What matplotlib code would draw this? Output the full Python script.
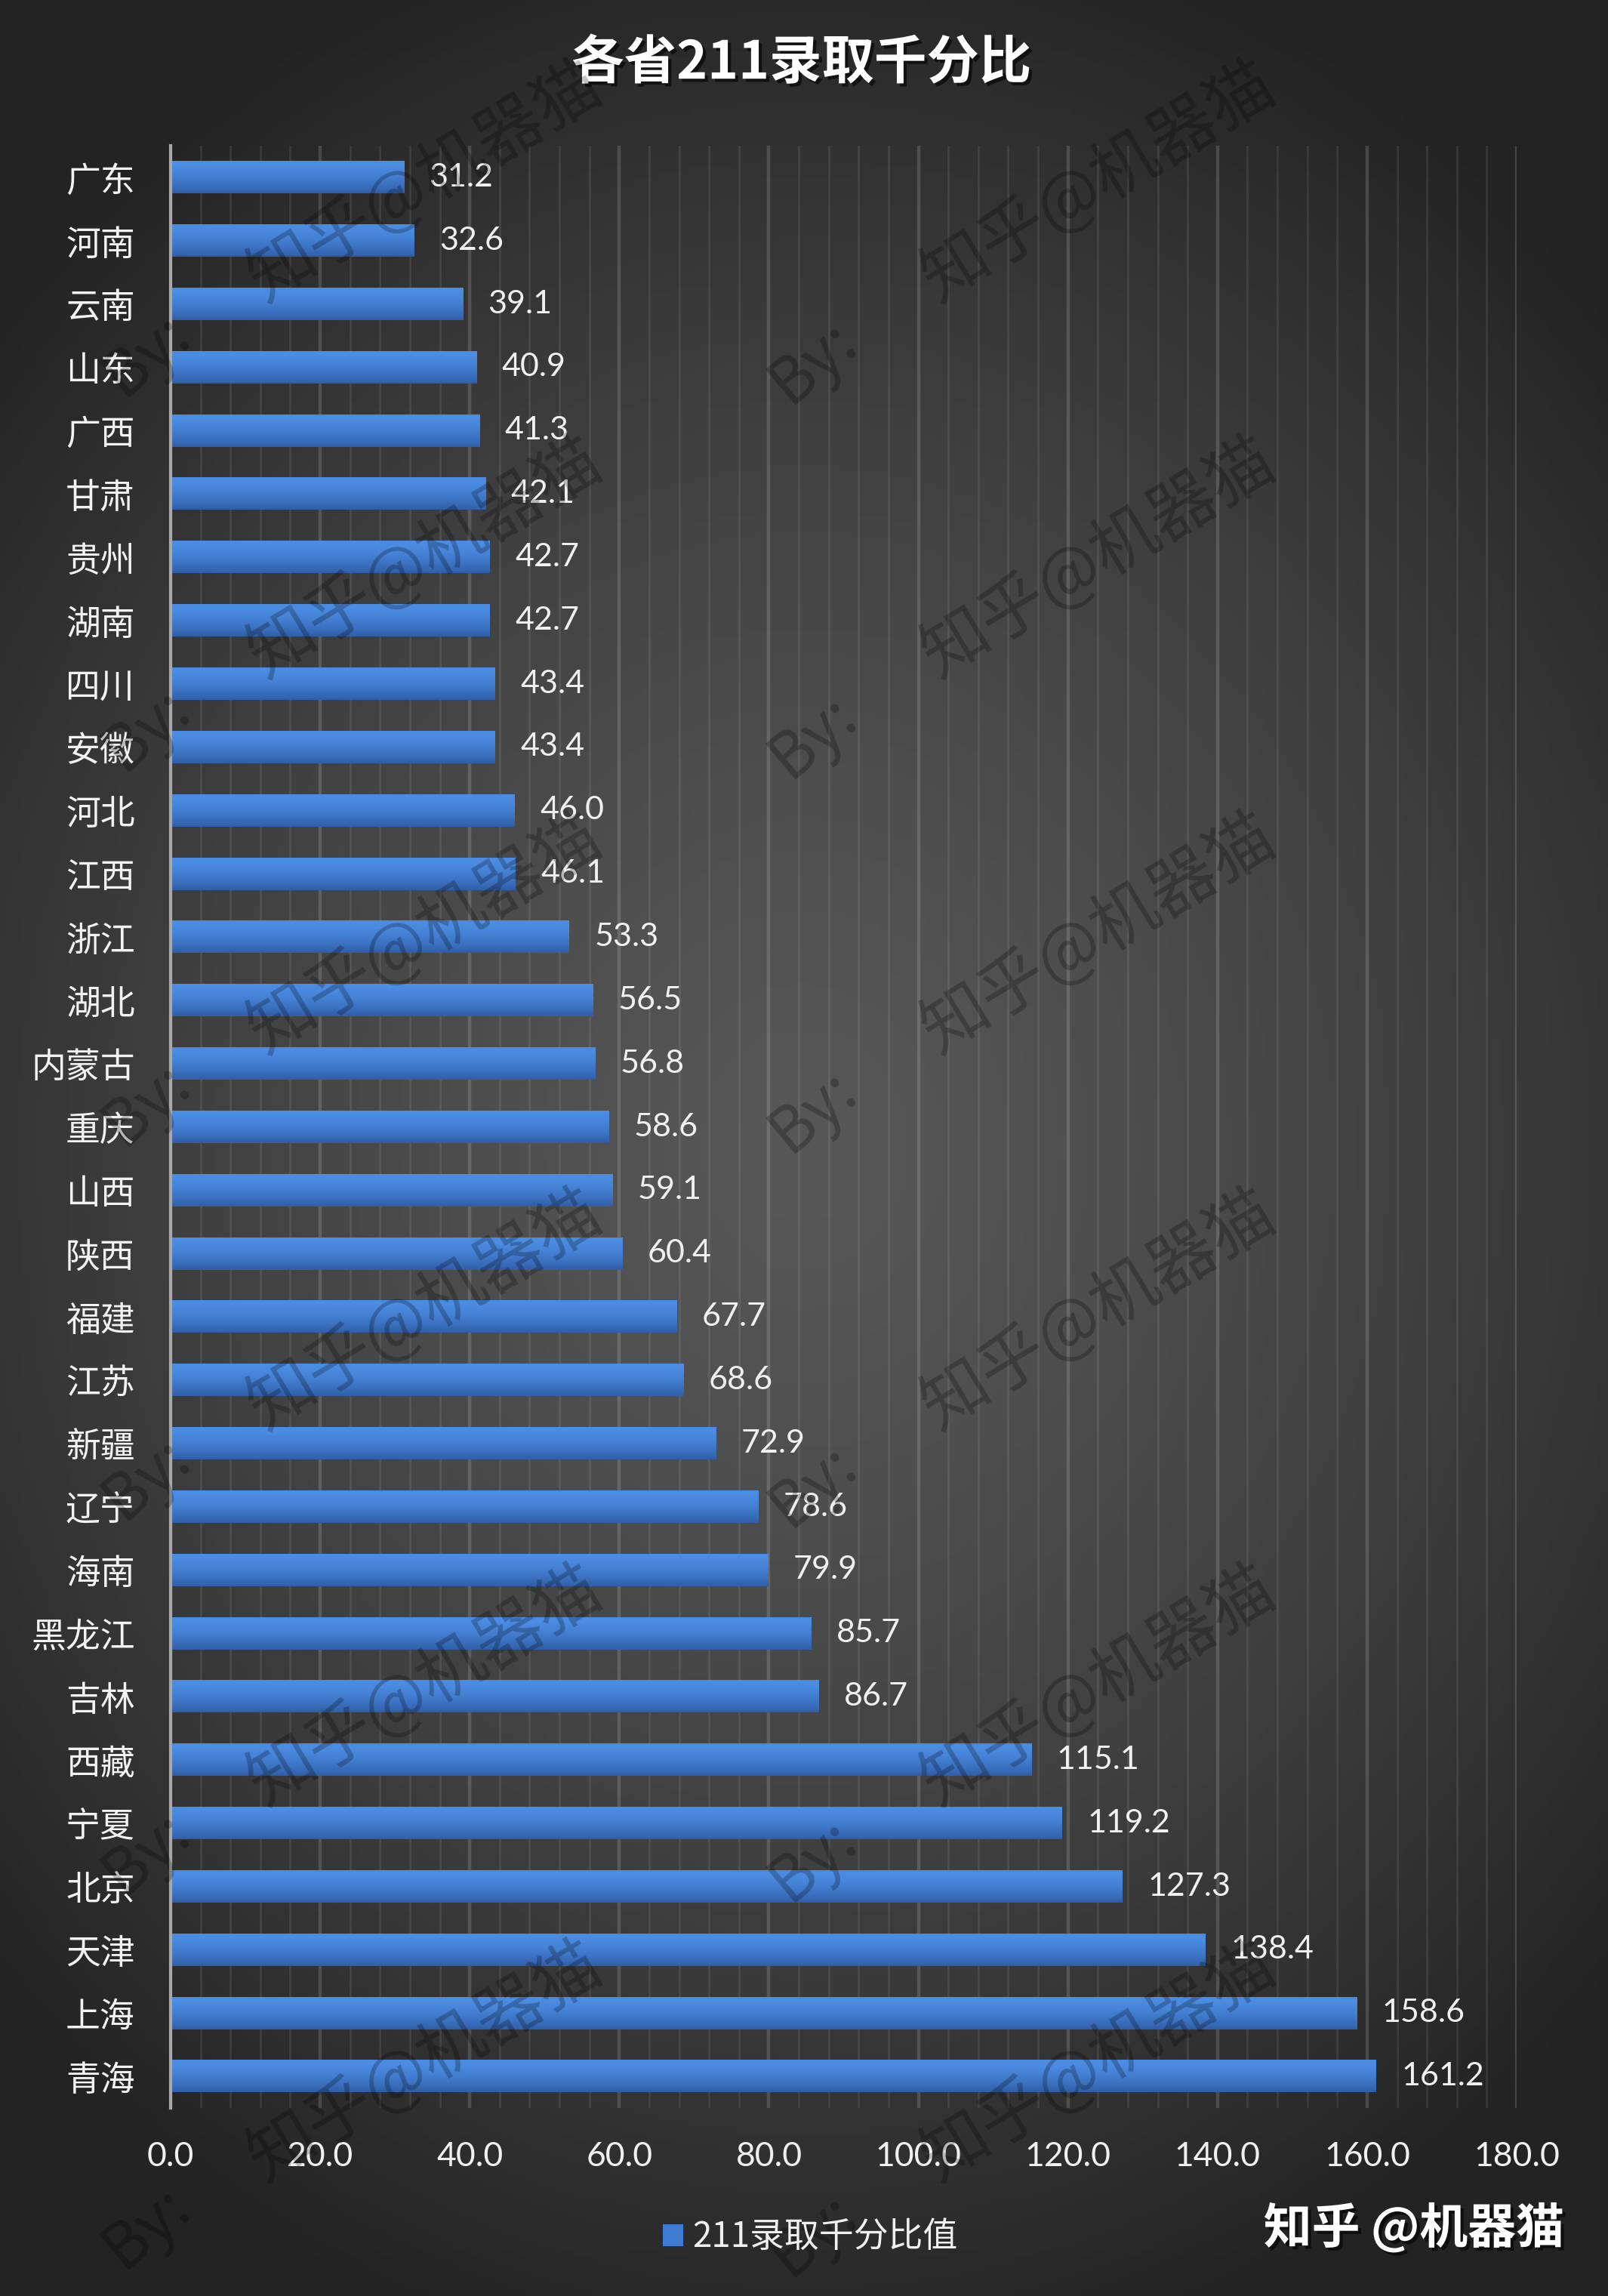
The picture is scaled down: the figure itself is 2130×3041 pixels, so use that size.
import numpy as np
import matplotlib.pyplot as plt
import matplotlib.patheffects as pe
from matplotlib.ticker import MultipleLocator, FormatStrFormatter

plt.rcParams['font.family'] = ['Lato', 'Noto Sans CJK SC', 'DejaVu Sans']

provinces = ["广东", "河南", "云南", "山东", "广西", "甘肃", "贵州", "湖南", "四川", "安徽",
             "河北", "江西", "浙江", "湖北", "内蒙古", "重庆", "山西", "陕西", "福建", "江苏",
             "新疆", "辽宁", "海南", "黑龙江", "吉林", "西藏", "宁夏", "北京", "天津", "上海", "青海"]
values = [31.2, 32.6, 39.1, 40.9, 41.3, 42.1, 42.7, 42.7, 43.4, 43.4,
          46.0, 46.1, 53.3, 56.5, 56.8, 58.6, 59.1, 60.4, 67.7, 68.6,
          72.9, 78.6, 79.9, 85.7, 86.7, 115.1, 119.2, 127.3, 138.4, 158.6, 161.2]
series_name = "211录取千分比值"
title = "各省211录取千分比"
credit = "知乎 @机器猫"
watermark = "知乎@机器猫"

cjk = ['Noto Sans CJK SC', 'DejaVu Sans']
W, H = 2130, 3041
fig = plt.figure(figsize=(W / 100, H / 100), dpi=100)

# dark radial background
bg = fig.add_axes([0, 0, 1, 1], zorder=-10)
yy, xx = np.mgrid[0:1:400j, 0:1:300j]
d = np.clip(np.sqrt(((xx - 0.5) / 0.68) ** 2 + ((yy - 0.5) / 0.55) ** 2), 0, 1)
v = (0x57 - (0x57 - 0x23) * d ** 1.4) / 255
bg.imshow(np.dstack([v, v, v]), extent=[0, 1, 0, 1], aspect='auto', origin='lower')
bg.axis('off')

ax = fig.add_axes([226 / W, 1 - 2792 / H, (2009 - 226) / W, (2792 - 193) / H])
ax.patch.set_alpha(0)

pos = np.arange(len(provinces))
bh = 0.51
bars = ax.barh(pos, values, height=bh, color='#3f7bd0', zorder=3, label=series_name)

# vertical gradient on every bar
top = np.array([0x4c, 0x8d, 0xe4]) / 255
bot = np.array([0x30, 0x5f, 0xa8]) / 255
t = np.linspace(0, 1, 60)[:, None]
grad = (top * (1 - t ** 1.6) + bot * t ** 1.6)[:, None, :]
for b in bars:
    x0, y0, w, h = b.get_x(), b.get_y(), b.get_width(), b.get_height()
    ax.imshow(grad, extent=(x0, x0 + w, y0 + h, y0), origin='upper',
              aspect='auto', zorder=3.5, interpolation='bilinear')

for p, val in zip(pos, values):
    ax.annotate(f'{val:.1f}', (val, p), xytext=(24, 0), textcoords='offset points',
                va='center', ha='left', fontsize=31, color='#f0f0f0')

ax.set_xlim(0, 180)
ax.set_ylim(len(provinces) - 0.5, -0.5)
ax.xaxis.set_major_locator(MultipleLocator(20))
ax.xaxis.set_minor_locator(MultipleLocator(4))
ax.xaxis.set_major_formatter(FormatStrFormatter('%.1f'))
ax.grid(which='major', axis='x', color='white', alpha=0.15, lw=3.2)
ax.grid(which='minor', axis='x', color='white', alpha=0.08, lw=2.2)
ax.set_axisbelow(True)
ax.tick_params(axis='x', which='both', length=0, pad=32, labelsize=32, labelcolor='#f0f0f0')

ax.set_yticks(pos)
ax.set_yticklabels(provinces, family=cjk, weight='light', fontsize=33, color='#f2f2f2')
ax.tick_params(axis='y', length=0, pad=34)

for s in ['top', 'right', 'bottom']:
    ax.spines[s].set_visible(False)
ax.spines['left'].set_color('#a8a8a8')
ax.spines['left'].set_linewidth(3)
ax.spines['left'].set_zorder(5)

shadow = [pe.withSimplePatchShadow(offset=(3, -3), shadow_rgbFace='black', alpha=0.6)]
fig.text(1062 / W, 1 - 84 / H, title, ha='center', va='center', fontsize=50,
         weight='bold', color='white', family=cjk, path_effects=shadow)

leg = fig.legend(handles=[bars], labels=[series_name], loc='center',
                 bbox_to_anchor=(1073 / W, 1 - 2963 / H), frameon=False,
                 handlelength=0.6, handleheight=0.6, handletextpad=0.25,
                 prop=dict(family=cjk, size=33, weight='light'))
for txt in leg.get_texts():
    txt.set_color('#f0f0f0')

fig.text(2072 / W, 1 - 2952 / H, credit, ha='right', va='center', fontsize=46,
         weight='bold', color='white', family=cjk, path_effects=shadow)

# diagonal watermarks
for r in range(6):
    for cx, bx, by in [(563, 194, 470), (1455, 1077, 480)]:
        fig.text(cx / W, 1 - (243 + r * 498) / H, watermark, ha='center', va='center',
                 rotation=31, fontsize=64, color='black', alpha=0.24, family=cjk)
        fig.text(bx / W, 1 - (by + r * 496) / H, "By:", ha='center', va='center',
                 rotation=40, fontsize=60, color='black', alpha=0.24, family=cjk)

fig.savefig('out.png', dpi=100)
